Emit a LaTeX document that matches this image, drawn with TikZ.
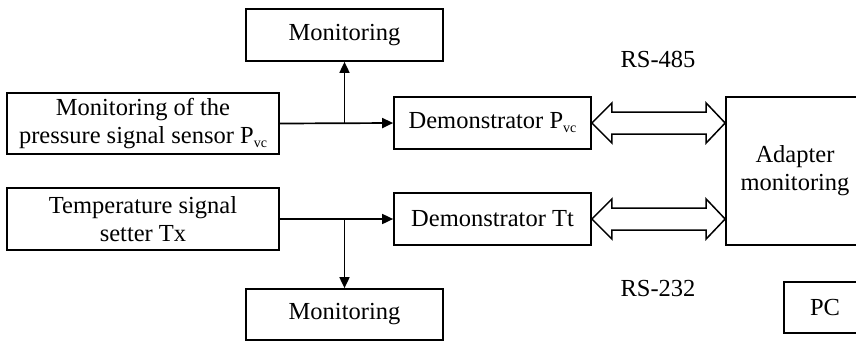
\documentclass[tikz,border=0pt]{standalone}
\usepackage{fontspec}
\setmainfont{Liberation Serif}
\usetikzlibrary{arrows.meta,calc}
\newcommand{\subvc}{\raisebox{-0.35ex}{\fontsize{14}{14}\selectfont vc}}
\tikzset{
  blk/.style={draw, line width=1.7pt, inner sep=0pt, align=center,
    font=\fontsize{24.5}{28}\selectfont},
  lbl/.style={inner sep=0pt, font=\fontsize{24.5}{28}\selectfont},
  sig/.style={line width=1.7pt, -{Triangle[length=11pt,width=10pt]}},
  bus/.style={draw, line width=1.5pt, fill=white, line join=miter}
}
\begin{document}
\begin{tikzpicture}[x=1pt,y=-1pt]
\useasboundingbox (0,0) rectangle (856,341);
\begin{scope}
\clip (0,0) rectangle (856,341);
% blocks
\node[blk, minimum width=197pt, minimum height=52pt] (mon1) at (344.5,35) {Monitoring};
\node[blk, minimum width=272pt, minimum height=61pt] (src1) at (143,123.5)
  {Monitoring of the\\pressure signal sensor P\subvc};
\node[blk, minimum width=197pt, minimum height=52pt] (dem1) at (492.5,123) {Demonstrator P\subvc};
\node[blk, minimum width=272pt, minimum height=62pt] (src2) at (143,219)
  {Temperature signal\\setter Tx};
\node[blk, minimum width=197pt, minimum height=52pt] (dem2) at (492.5,219) {Demonstrator Tt};
\node[blk, minimum width=197pt, minimum height=51pt] (mon2) at (344.5,314.5) {Monitoring};
\node[blk, minimum width=138pt, minimum height=148pt] (adp) at (795,171) {Adapter\\monitoring};
\node[blk, minimum width=82pt, minimum height=51pt] (pc) at (825,307.5) {PC};
% interface labels
\node[lbl] (rs485) at (658,59) {RS-485};
\node[lbl] (rs232) at (658,289) {RS-232};
% signal lines with branches to the monitors
\coordinate (b1) at (mon1.south |- src1.east);
\coordinate (b2) at (mon2.north |- src2.east);
\draw[sig] (src1.east) -- (dem1.west);
\draw[sig] (b1) -- (mon1.south);
\draw[sig] (src2.east) -- (dem2.west);
\draw[sig] (b2) -- (mon2.north);
% bidirectional buses to the adapter
\foreach \d in {dem1,dem2}{
  \coordinate (L) at (\d.east);
  \coordinate (R) at (adp.west |- \d.east);
  \path[bus] (L) -- ++(20,-20) -- ++(0,9) -- ($(R)+(-19,-11)$) -- ++(0,-9)
    -- (R) -- ++(-19,20) -- ++(0,-9) -- ($(L)+(20,11)$) -- ++(0,9) -- cycle;
}
\end{scope}
\end{tikzpicture}
\end{document}
